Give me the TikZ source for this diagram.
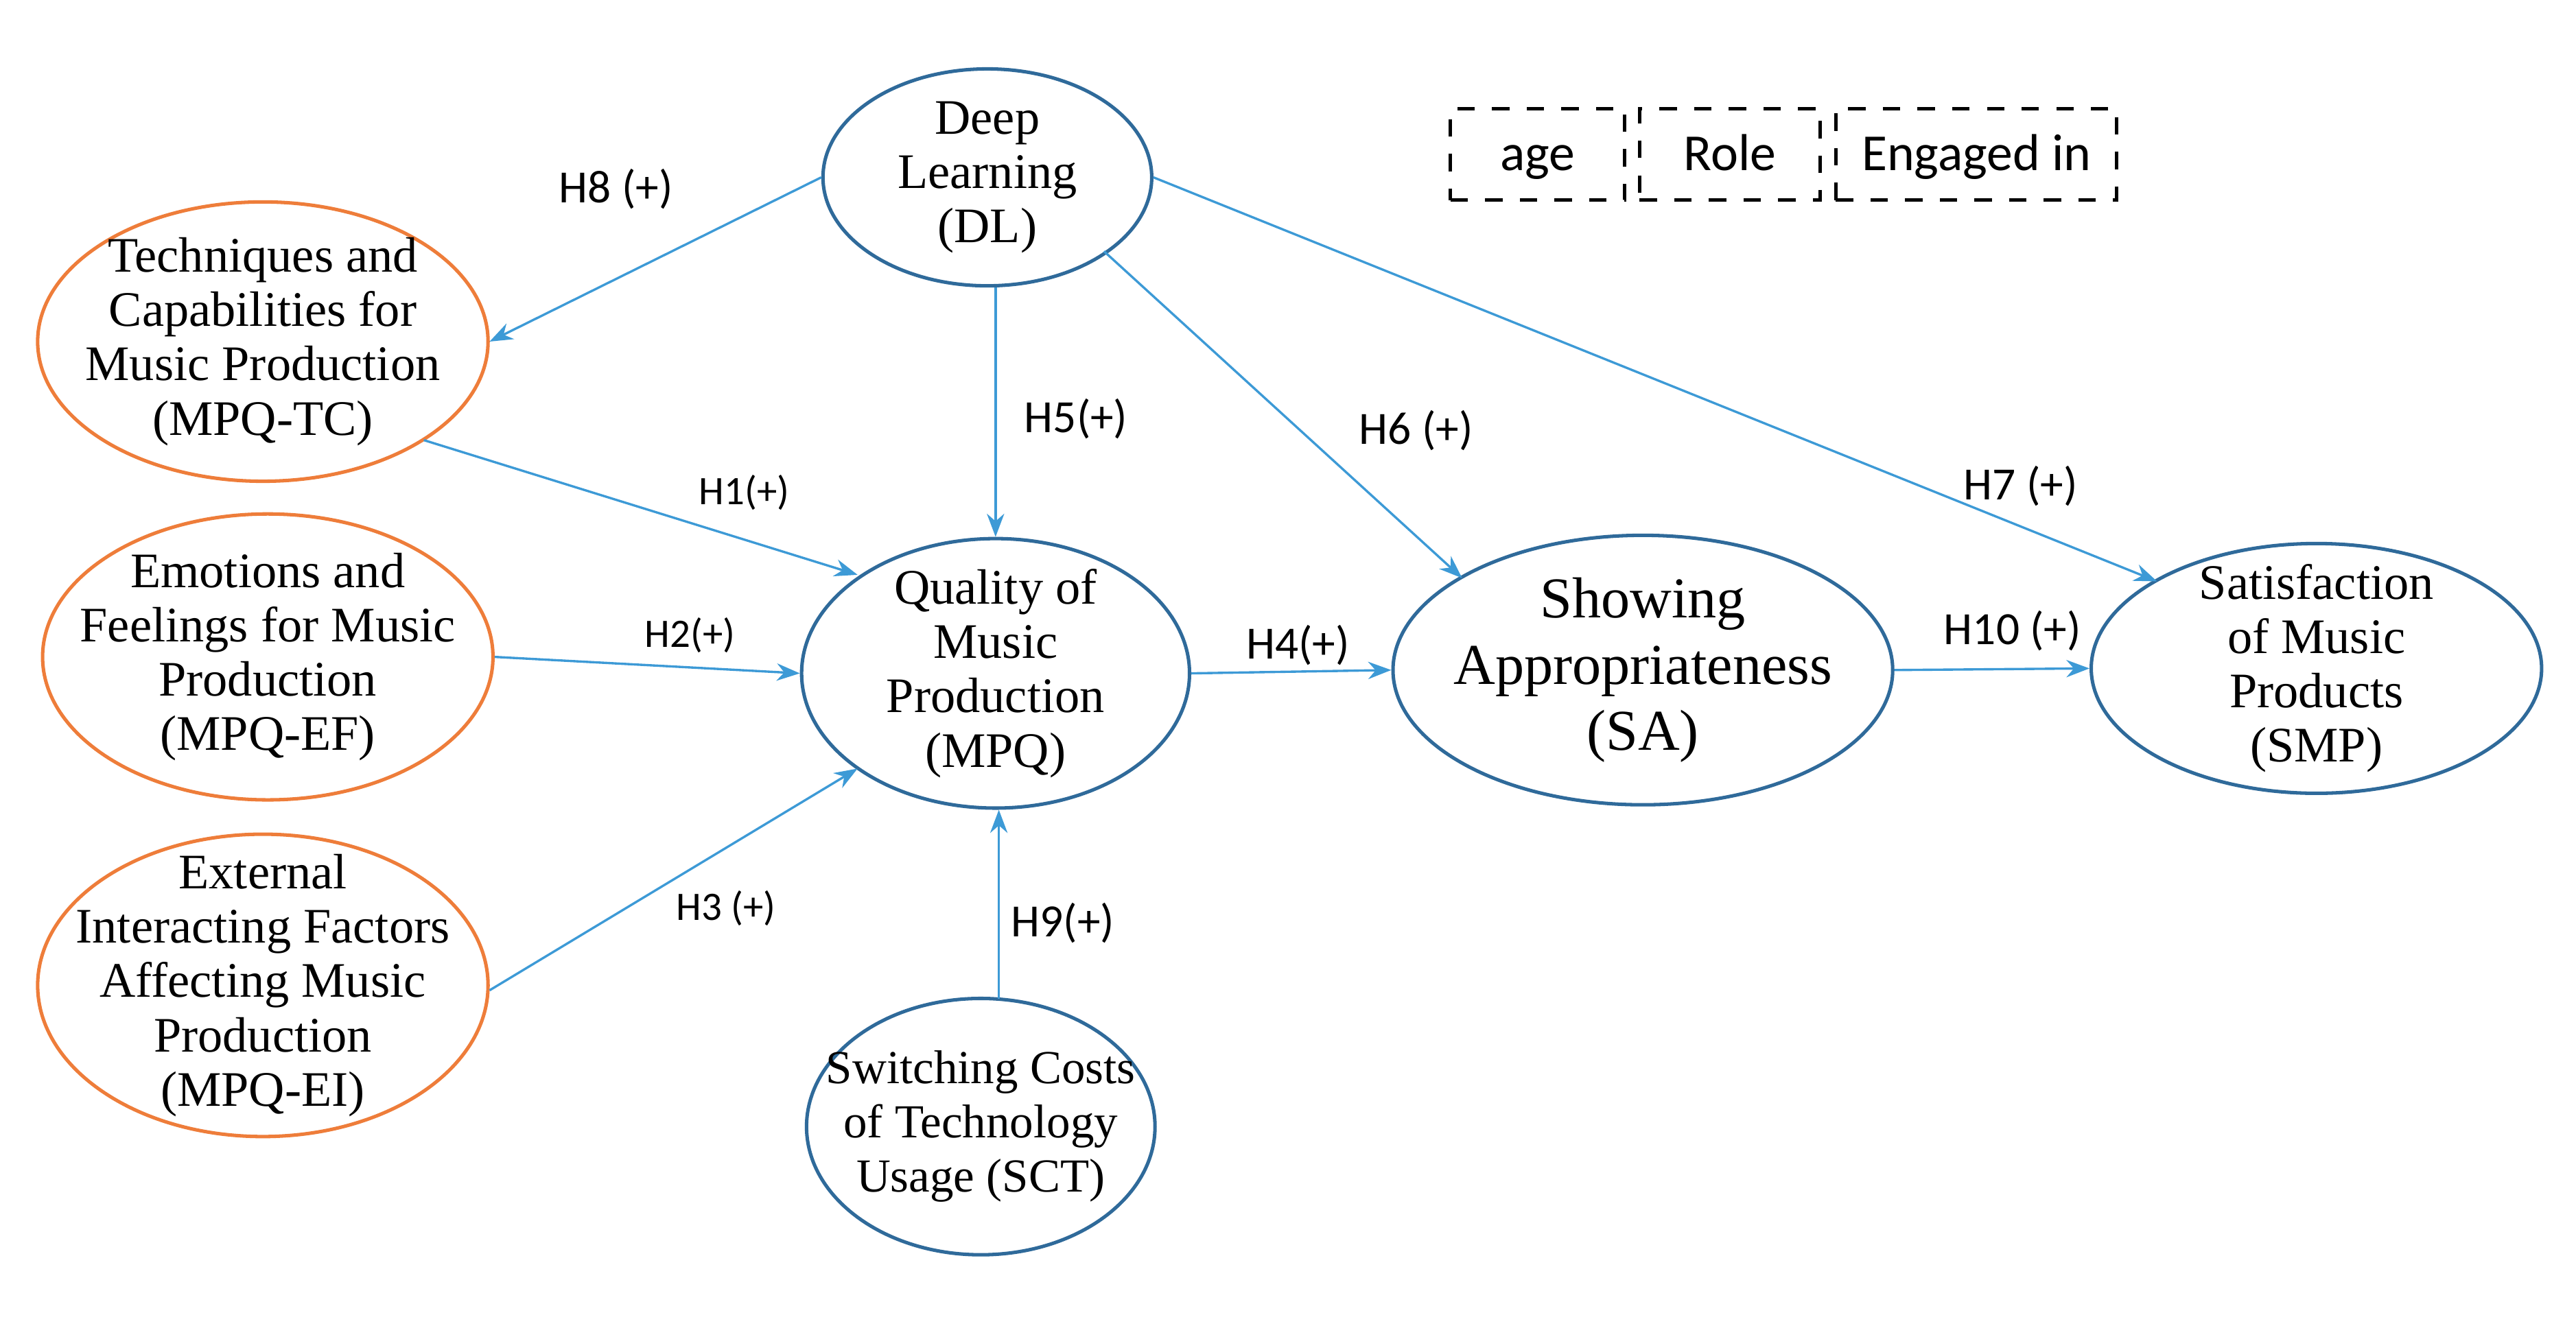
\documentclass[tikz,border=0pt]{standalone}
\usepackage{fontspec}
\setmainfont{Liberation Serif}
\newfontfamily\lab{Carlito}
\usetikzlibrary{arrows.meta,shapes.geometric}
\definecolor{eb}{HTML}{2F6A9A}
\definecolor{eo}{HTML}{EE7D3A}
\definecolor{ar}{HTML}{3D9AD6}
\begin{document}
\begin{tikzpicture}[x=0.01cm,y=-0.01cm,
 el/.style={ellipse,draw=#1,line width=0.6pt,inner sep=0pt},
 el/.default=eb,
 tx/.style={align=center,inner sep=0pt,font=\fontsize{8.6}{9.4}\selectfont},
 ar/.style={draw=ar,line width=0.4pt,-{Stealth[length=4pt,width=3pt]}},
 hl/.style={font=\lab\fontsize{8}{9}\selectfont},
 bx/.style={draw,dashed,line width=0.6pt,minimum height=0.48cm,text height=1.6ex,text depth=0.4ex,font=\lab\fontsize{9}{10}\selectfont}]
\useasboundingbox (0,0) rectangle (1568,807);
\node[el,minimum width=2.0cm,minimum height=1.32cm] (dl) at (601,108) {};
\node[tx] (dlt) at (dl) {Deep\\Learning\\(DL)};
\node[el=eo,minimum width=2.74cm,minimum height=1.7cm] (tc) at (160,208) {};
\node[tx] (tct) at (tc) {Techniques and\\Capabilities for\\Music Production\\(MPQ-TC)};
\node[el=eo,minimum width=2.74cm,minimum height=1.74cm] (ef) at (163,400) {};
\node[tx] (eft) at (ef) {Emotions and\\Feelings for Music\\Production\\(MPQ-EF)};
\node[el=eo,minimum width=2.74cm,minimum height=1.84cm] (ei) at (160,600) {};
\node[tx] (eit) at (ei) {External\\Interacting Factors\\Affecting Music\\Production\\(MPQ-EI)};
\node[el,minimum width=2.36cm,minimum height=1.64cm] (mpq) at (606,410) {};
\node[tx] (mpqt) at (mpq) {Quality of\\Music\\Production\\(MPQ)};
\node[el,minimum width=3.04cm,minimum height=1.64cm] (sa) at (1000,408) {};
\node[tx,font=\fontsize{10}{11.5}\selectfont] (sat) at (sa) {Showing\\Appropriateness\\(SA)};
\node[el,minimum width=2.74cm,minimum height=1.52cm] (smp) at (1410,407) {};
\node[tx] (smpt) at (smp) {Satisfaction\\of Music\\Products\\(SMP)};
\node[el,minimum width=2.12cm,minimum height=1.56cm] (sct) at (597,686) {};
\node[tx,font=\fontsize{8.2}{9.4}\selectfont] (sctt) at (sct) {Switching Costs\\of Technology\\Usage (SCT)};
\node[bx,minimum width=1.06cm] (age) at (936,94) {age};
\node[bx,minimum width=1.10cm] (role) at (1053,94) {Role};
\node[bx,minimum width=1.71cm] (eng) at (1203,94) {Engaged in};
\draw[ar] (dl.west) -- (298,208);
\draw[ar] (606,175) -- (mpq.north);
\draw[ar] (672,153) -- (890,352);
\draw[ar] (dl.east) -- (1313,354);
\draw[ar] (258,268) -- (522,350);
\draw[ar] (ef.east) -- (mpq.west);
\draw[ar] (298,603) -- (522,468);
\draw[ar] (mpq.east) -- (sa.west);
\draw[ar] (sa.east) -- (smp.west);
\draw[ar] (608,608) -- (mpq.south -| 608,0);
\node[hl] (h8) at (375,115) {H8 (+)};
\node[hl] (h5) at (655,255) {H5(+)};
\node[hl] (h6) at (862,262) {H6 (+)};
\node[hl] (h7) at (1230,296) {H7 (+)};
\node[hl,font=\lab\fontsize{7}{8}\selectfont] (h1) at (453,300) {H1(+)};
\node[hl,font=\lab\fontsize{7}{8}\selectfont] (h2) at (420,387) {H2(+)};
\node[hl] (h4) at (790,393) {H4(+)};
\node[hl] (h10) at (1225,384) {H10 (+)};
\node[hl,font=\lab\fontsize{7}{8}\selectfont] (h3) at (442,553) {H3 (+)};
\node[hl] (h9) at (647,562) {H9(+)};
\end{tikzpicture}
\end{document}
